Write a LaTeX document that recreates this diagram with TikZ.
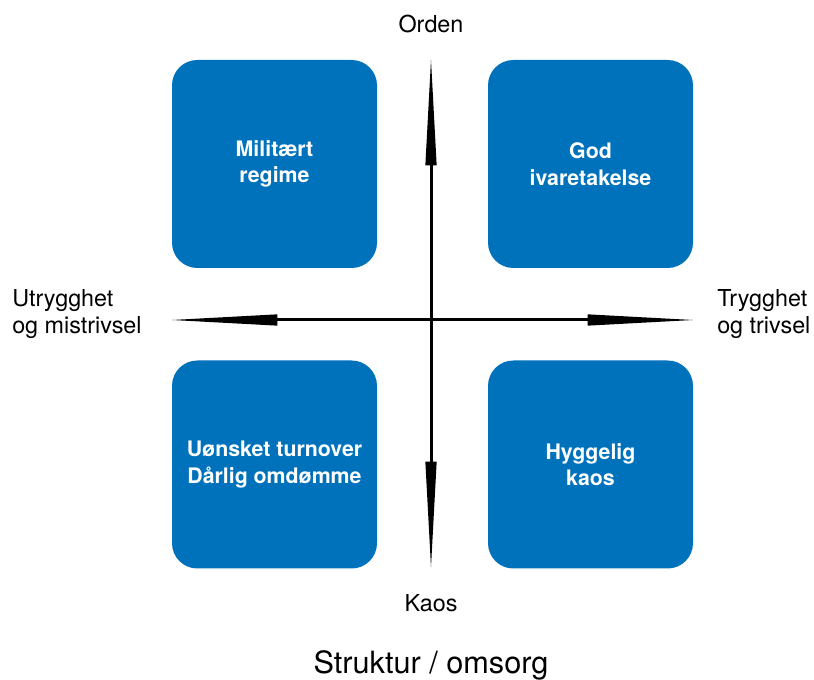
\documentclass[tikz,border=0pt]{standalone}
\usepackage{fontspec}
\setmainfont{TeX Gyre Heros}
\usetikzlibrary{arrows.meta}
\definecolor{boxblue}{RGB}{0,114,188}
\tikzset{
  quad/.style={draw=none, fill=boxblue, rounded corners=19pt, minimum width=153.75pt, minimum height=156pt,
    text=white, font=\fontsize{16}{20}\selectfont\bfseries, align=center, inner sep=0pt},
  lbl/.style={font=\fontsize{17.5}{20.5}\selectfont, inner sep=0pt},
  axis/.style={line width=2.25pt, -{Triangle[length=79pt, width=8.5pt, line width=0pt]}},
}
\begin{document}
\begin{tikzpicture}[x=0.75pt, y=-0.75pt]
\useasboundingbox (0,0) rectangle (814,680);
\node[quad] (tl) at (274.5,164) {Militært\\regime};
\node[quad] (tr) at (590.5,164) {God\\ivaretakelse};
\node[quad] (bl) at (274.5,464.5) {Uønsket turnover\\Dårlig omdømme};
\node[quad] (br) at (590.5,464.5) {Hyggelig\\kaos};
\coordinate (c) at (431,320);
\coordinate (top) at (431,60);
\coordinate (bot) at (431,567);
\coordinate (lft) at (172,320);
\coordinate (rgt) at (693,320);
\draw[axis] (c) -- (top);
\draw[axis] (c) -- (bot);
\draw[axis] (c) -- (lft);
\draw[axis] (c) -- (rgt);
\node[lbl] (orden) at (431,24) {Orden};
\node[lbl] (kaos) at (431,603) {Kaos};
\node[lbl, align=left, anchor=west] (utr) at (12,314) {Utrygghet\\og mistrivsel};
\node[lbl, align=left, anchor=west] (tryg) at (717,314) {Trygghet\\og trivsel};
\node[font=\fontsize{23}{27}\selectfont, inner sep=0pt] (title) at (431,665) {Struktur / omsorg};
\end{tikzpicture}
\end{document}
